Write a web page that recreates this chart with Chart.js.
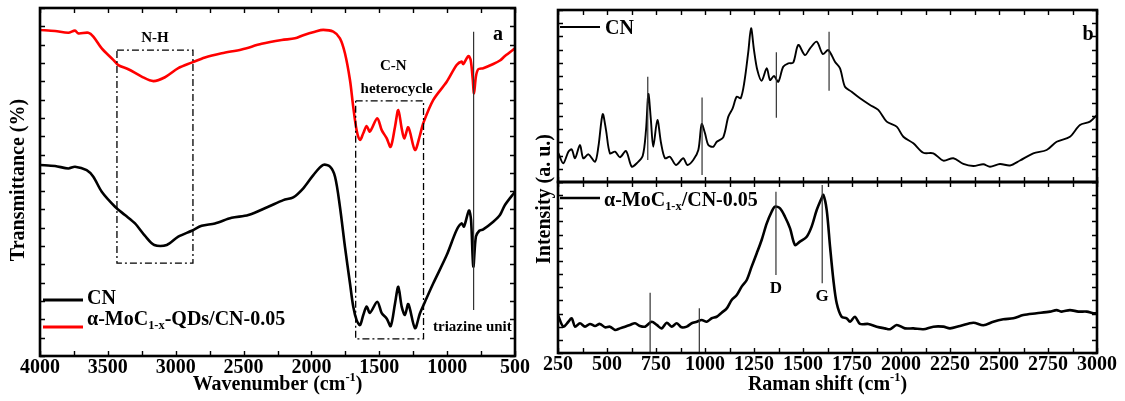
<!DOCTYPE html>
<html><head><meta charset="utf-8">
<script src="https://cdn.jsdelivr.net/npm/chart.js@4.4.1/dist/chart.umd.min.js"></script>
<style>
html,body{margin:0;padding:0;background:#fff;}
#wrap{position:relative;width:1125px;height:401px;background:#fff;}
#wrap canvas{position:absolute;left:0;top:0;}
</style></head><body>
<div id="wrap">
<canvas id="c1" width="1125" height="401" style="width:1125px;height:401px"></canvas>
<canvas id="c2" width="1125" height="401" style="width:1125px;height:401px"></canvas>
<canvas id="c3" width="1125" height="401" style="width:1125px;height:401px"></canvas>
</div>
<script>
// ---------- DATA ----------
// (a) FTIR: alpha-MoC1-x-QDs/CN-0.05 (red)
const ftirMo_wn = [4000,3889,3791,3742,3718,3644,3607,3545,3460,3423,3349,3251,3165,3079,2981,2882,2784,2661,2514,2367,2219,2121,2060,1974,1913,1839,1790,1753,1716,1692,1667,1642,1618,1593,1569,1515,1482,1446,1416,1384,1360,1335,1316,1286,1237,1200,1176,1102,1003,930,893,881,844,827,812,802,788,771,734,660,611,574,500];
const ftirMo_T  = [93.7,93.4,92.9,93.5,92.7,92.9,91.8,88.4,85.1,83.6,82.4,80.3,79.0,80.1,82.7,84.3,85.8,87.0,88.1,89.7,90.8,91.3,92.2,93.2,93.7,93.2,91.3,87.0,79.3,71.6,64.9,62.1,64.0,66.1,64.5,68.3,64.9,62.6,60.1,65.9,70.7,65.4,62.5,65.7,59.2,63.5,66.9,73.6,78.8,83.6,84.6,83.9,86.2,85.1,79.8,75.5,80.3,82.4,82.7,83.9,84.9,86.2,88.4];
// (a) FTIR: CN (black)
const ftirCN_wn = [4000,3889,3791,3742,3656,3607,3545,3447,3374,3300,3226,3158,3066,2981,2882,2809,2711,2588,2465,2318,2207,2134,2060,1986,1913,1863,1826,1790,1753,1716,1692,1667,1642,1618,1593,1569,1515,1482,1446,1416,1384,1360,1335,1311,1286,1237,1200,1163,1102,1003,930,893,876,839,824,807,788,763,734,660,611,574,500];
const ftirCN_T  = [54.9,54.6,53.9,54.4,53.4,51.5,47.2,42.9,40.5,38.1,34.5,31.9,31.9,34.3,36.0,37.4,38.1,39.7,40.5,42.9,44.8,45.6,48.2,52.0,54.9,54.4,51.5,42.9,31.4,20.9,14.2,10.3,8.9,11.8,14.2,12.4,15.6,12.3,10.8,8.6,15.1,19.9,14.2,11.8,14.9,8.0,12.3,15.6,20.9,29.0,36.2,38.1,37.2,41.8,39.1,25.7,34.3,36.0,36.4,38.6,40.5,43.4,47.2];
// (b) Raman: CN (upper)
const ramanCN_shift = [252,277,303,320,337,362,379,405,439,456,478,495,515,541,566,597,626,652,682,699,711,724,736,757,776,796,821,852,889,910,940,966,983,1000,1017,1042,1060,1093,1119,1141,1162,1182,1201,1221,1235,1250,1267,1289,1315,1332,1352,1374,1399,1425,1450,1476,1510,1536,1570,1601,1629,1663,1689,1714,1748,1791,1842,1884,1927,1978,2012,2063,2114,2165,2216,2267,2318,2369,2420,2454,2505,2556,2607,2675,2743,2794,2862,2913,2964,3000];
const ramanCN_I = [16.7,10.9,17.6,19.0,13.8,21.5,13.8,16.1,11.8,20.5,39.4,30.2,16.7,17.6,14.4,18.0,8.9,10.9,15.1,30.2,51.2,36.0,20.5,36.0,22.5,13.8,14.7,9.9,13.8,9.9,12.8,18.6,33.7,28.3,21.5,20.5,23.4,26.0,38.0,42.8,49.6,48.7,58.3,75.8,89.4,76.7,65.1,58.9,66.1,59.3,61.6,58.3,67.0,69.0,69.4,79.7,73.8,77.7,81.6,74.4,76.7,69.9,66.1,55.4,52.5,48.7,44.8,41.9,35.1,32.2,26.3,22.5,17.0,16.7,12.4,13.8,10.5,9.3,10.3,8.9,10.5,9.6,12.5,16.7,18.6,23.4,26.3,33.1,35.1,39.0];
// (b) Raman: alpha-MoC1-x/CN-0.05 (lower)
const ramanMo_shift = [250,277,303,320,337,362,388,413,439,464,490,515,541,566,592,617,643,668,694,728,754,779,805,830,856,881,907,932,958,983,1009,1034,1060,1085,1111,1136,1162,1187,1213,1238,1264,1289,1315,1340,1357,1383,1408,1434,1459,1484,1519,1544,1570,1595,1604,1621,1638,1655,1672,1697,1723,1740,1765,1791,1833,1876,1918,1944,1978,2020,2063,2114,2165,2216,2250,2301,2369,2420,2471,2522,2573,2624,2692,2760,2794,2820,2862,2905,2948,2982,3000];
const ramanMo_I = [22.2,15.4,18.3,20.3,15.4,17.4,15.4,17.0,15.8,17.0,15.0,15.4,13.5,14.4,15.4,16.4,17.4,15.8,15.4,18.3,16.4,14.4,17.7,15.4,17.4,15.0,15.4,17.4,18.3,19.3,18.3,20.3,21.2,23.6,26.1,31.0,33.9,38.8,42.7,50.5,58.3,66.1,75.8,82.6,85.6,84.6,79.7,72.9,63.2,65.1,68.0,73.9,83.6,90.5,92.4,83.6,62.2,42.7,29.1,21.2,20.3,18.3,21.2,17.0,17.0,15.4,14.4,13.9,16.4,14.4,14.4,13.9,15.4,15.4,14.4,15.8,17.7,16.2,18.3,19.7,20.3,22.2,23.2,24.2,25.1,24.2,25.1,24.2,24.2,23.2,23.2];
// marker lines [x, yFrom, yTo]
const ftirMarkers = [[805, 93.2, 13.2]];
const ramanCNMarkers = [[708, 61.2, 12.8],[985, 49.2, 4.1],[1364, 75.4, 37.4],[1633, 87.4, 53.1]];
const ramanMoMarkers = [[1362, 94.3, 45.6],[1598, 98.2, 40.8],[720, 35.3, 0],[971, 26.1, 0]];
// highlight boxes [xFrom, xTo, yTop, yBottom]
const nhBox = [3433, 2873, 87.9, 26.7];
const cnBox = [1674, 1174, 73.3, 4.9];
// ticks
const ftirTickValues = [500,750,1000,1250,1500,1750,2000,2250,2500,2750,3000,3250,3500,3750,4000];
const ftirTickLabels = [4000,3500,3000,2500,2000,1500,1000,500];
const ramanTickValues = [250,375,500,625,750,875,1000,1125,1250,1375,1500,1625,1750,1875,2000,2125,2250,2375,2500,2625,2750,2875,3000];
const ramanTickLabels = [250,500,750,1000,1250,1500,1750,2000,2250,2500,2750,3000];

// ---------- HELPERS ----------
const FONT = "'Liberation Serif','Times New Roman',serif";
const pts = (xs, ys) => xs.map((x, i) => ({x, y: ys[i]}));
const vline = m => [{x: m[0], y: m[1]}, {x: m[0], y: m[2]}];
const rect = b => [{x:b[0],y:b[2]},{x:b[1],y:b[2]},{x:b[1],y:b[3]},{x:b[0],y:b[3]},{x:b[0],y:b[2]}];
const yDivs = n => Array.from({length: n + 1}, (_, i) => ({value: i * 100 / n}));

function drawRich(ctx, parts, x, y, size, align, rotate, color) {
  ctx.save();
  ctx.translate(x, y);
  if (rotate) ctx.rotate(rotate);
  ctx.fillStyle = color || '#000';
  ctx.textBaseline = 'alphabetic';
  const segs = parts.map(p => {
    const t = typeof p === 'string' ? p : p[0];
    const mode = typeof p === 'string' ? 0 : p[1];
    const s = mode ? size * 0.62 : size;
    ctx.font = `bold ${s}px ${FONT}`;
    return {t, mode, s, w: ctx.measureText(t).width};
  });
  const total = segs.reduce((a, b) => a + b.w, 0);
  let cx = align === 'center' ? -total / 2 : align === 'right' ? -total : 0;
  const base = size * 0.33;
  segs.forEach(sg => {
    ctx.font = `bold ${sg.s}px ${FONT}`;
    let by = base;
    if (sg.mode === 1) by += size * 0.22;
    if (sg.mode === 2) by -= size * 0.42;
    ctx.fillText(sg.t, cx, by);
    cx += sg.w;
  });
  ctx.restore();
}

const framePlugin = {
  id: 'frame',
  afterDatasetsDraw(chart, args, o) {
    const {ctx, chartArea: a, scales} = chart;
    ctx.save();
    ctx.strokeStyle = '#000';
    ctx.lineWidth = 1.4;
    const tl = o.tickLen || 5;
    scales.x.ticks.forEach(t => {
      const px = Math.round(scales.x.getPixelForValue(t.value)) + 0.5;
      ctx.beginPath();
      if (o.xBottom) { ctx.moveTo(px, a.bottom); ctx.lineTo(px, a.bottom - tl); }
      if (o.xTop) { ctx.moveTo(px, a.top); ctx.lineTo(px, a.top + tl); }
      ctx.stroke();
    });
    scales.y.ticks.forEach(t => {
      const py = Math.round(scales.y.getPixelForValue(t.value)) + 0.5;
      ctx.beginPath();
      ctx.moveTo(a.left, py); ctx.lineTo(a.left + tl, py);
      ctx.moveTo(a.right, py); ctx.lineTo(a.right - tl, py);
      ctx.stroke();
    });
    ctx.lineWidth = o.lineWidth || 2.5;
    ctx.strokeRect(a.left, a.top, a.right - a.left, a.bottom - a.top);
    ctx.restore();
  }
};

const textPlugin = {
  id: 'texts',
  afterDraw(chart, args, o) {
    const ctx = chart.ctx, xs = chart.scales.x, ys = chart.scales.y;
    (o.swatches || []).forEach(s => {
      ctx.save(); ctx.strokeStyle = s.color; ctx.lineWidth = s.width;
      ctx.beginPath(); ctx.moveTo(s.x1, s.y); ctx.lineTo(s.x2, s.y); ctx.stroke(); ctx.restore();
    });
    (o.items || []).forEach(it => {
      let x = it.px, y = it.py;
      if (it.dx !== undefined) { x = xs.getPixelForValue(it.dx); y = ys.getPixelForValue(it.dy); }
      drawRich(ctx, it.parts, x, y, it.size, it.align || 'left', it.rotate || 0, it.color);
    });
  }
};

function xScale(min, max, reverse, tickVals, tickLabs, height, showLabels) {
  return {
    type: 'linear', min, max, reverse, position: 'bottom',
    afterBuildTicks: ax => { ax.ticks = tickVals.map(v => ({value: v})); },
    afterFit: s => { s.height = height; },
    grid: {display: false, drawTicks: false}, border: {display: false},
    ticks: {display: showLabels, autoSkip: false, maxRotation: 0, minRotation: 0, padding: 0, color: '#000',
            font: {family: FONT, size: 20, weight: 'bold', lineHeight: 1.2},
            callback: v => tickLabs.includes(v) ? String(v) : ''}
  };
}
function yScale(n) {
  return {
    type: 'linear', min: 0, max: 100,
    afterBuildTicks: ax => { ax.ticks = yDivs(n); },
    afterFit: s => { s.width = 0; },
    grid: {display: false, drawTicks: false}, border: {display: false},
    ticks: {display: false}
  };
}
const curve = (data, color, w) => ({data, borderColor: color, borderWidth: w, pointRadius: 0, tension: 0.3, fill: false});
const thin = (data, color, w, dash) => ({data, borderColor: color, borderWidth: w, pointRadius: 0, tension: 0, fill: false, borderDash: dash || []});
const base = {animation: false, responsive: false, devicePixelRatio: 1, events: []};

// ---------- (a) FTIR ----------
new Chart(document.getElementById('c1'), {
  type: 'line',
  data: {datasets: [
    thin(rect(nhBox), '#000', 1.3, [7, 3, 2, 3]),
    thin(rect(cnBox), '#000', 1.3, [7, 3, 2, 3]),
    ...ftirMarkers.map(m => thin(vline(m), '#333', 1.2)),
    curve(pts(ftirCN_wn, ftirCN_T), '#000', 2.6),
    curve(pts(ftirMo_wn, ftirMo_T), '#ff0000', 2.6)
  ]},
  options: {...base,
    layout: {padding: {left: 40, top: 8, right: 610, bottom: 0}},
    scales: {x: xScale(500, 4000, true, ftirTickValues, ftirTickLabels, 45, true), y: yScale(19)},
    plugins: {legend: {display: false}, tooltip: {enabled: false},
      frame: {xTop: true, xBottom: true, tickLen: 5, lineWidth: 2.6},
      texts: {
        swatches: [{x1: 43, x2: 83, y: 300, color: '#000', width: 3}, {x1: 43, x2: 83, y: 327, color: '#ff0000', width: 3}],
        items: [
          {dx: 3153, dy: 91.7, parts: ['N-H'], size: 15, align: 'center'},
          {dx: 1397, dy: 83.6, parts: ['C-N'], size: 15, align: 'center'},
          {dx: 1372, dy: 76.9, parts: ['heterocycle'], size: 15, align: 'center'},
          {dx: 1104, dy: 8.6, parts: ['triazine unit'], size: 15, align: 'left'},
          {dx: 625, dy: 92.8, parts: ['a'], size: 20, align: 'center'},
          {px: 87, py: 297, parts: ['CN'], size: 20},
          {px: 87, py: 318, parts: ['\u03b1-MoC', ['1-x', 1], '-QDs/CN-0.05'], size: 20},
          {px: 277.5, py: 383, parts: ['Wavenumber (cm', ['-1', 2], ')'], size: 20, align: 'center'},
          {px: 17, py: 180, parts: ['Transmittance (%)'], size: 20, align: 'center', rotate: -Math.PI / 2}
        ]
      }
    }
  },
  plugins: [framePlugin, textPlugin]
});

// ---------- (b) Raman upper: CN ----------
new Chart(document.getElementById('c2'), {
  type: 'line',
  data: {datasets: [
    ...ramanCNMarkers.map(m => thin(vline(m), '#333', 1.2)),
    curve(pts(ramanCN_shift, ramanCN_I), '#000', 1.9)
  ]},
  options: {...base,
    layout: {padding: {left: 558, top: 10, right: 28, bottom: 219}},
    scales: {x: xScale(250, 3000, false, ramanTickValues, ramanTickLabels, 0, false), y: yScale(13)},
    plugins: {legend: {display: false}, tooltip: {enabled: false},
      frame: {xTop: true, xBottom: true, tickLen: 5, lineWidth: 2.6},
      texts: {
        swatches: [{x1: 560, x2: 600, y: 27, color: '#000', width: 1.8}],
        items: [
          {px: 605, py: 27, parts: ['CN'], size: 20},
          {px: 1088, py: 33, parts: ['b'], size: 20, align: 'center'}
        ]
      }
    }
  },
  plugins: [framePlugin, textPlugin]
});

// ---------- (b) Raman lower: alpha-MoC1-x/CN-0.05 ----------
new Chart(document.getElementById('c3'), {
  type: 'line',
  data: {datasets: [
    ...ramanMoMarkers.map(m => thin(vline(m), '#333', 1.2)),
    curve(pts(ramanMo_shift, ramanMo_I), '#000', 2.6)
  ]},
  options: {...base,
    layout: {padding: {left: 558, top: 182, right: 28, bottom: 0}},
    scales: {x: xScale(250, 3000, false, ramanTickValues, ramanTickLabels, 48, true), y: yScale(13)},
    plugins: {legend: {display: false}, tooltip: {enabled: false},
      frame: {xTop: true, xBottom: true, tickLen: 5, lineWidth: 2.6},
      texts: {
        swatches: [{x1: 560, x2: 600, y: 198, color: '#000', width: 2.6}],
        items: [
          {px: 604, py: 199, parts: ['\u03b1-MoC', ['1-x', 1], '/CN-0.05'], size: 20},
          {dx: 1362, dy: 38.6, parts: ['D'], size: 17, align: 'center'},
          {dx: 1597, dy: 33.9, parts: ['G'], size: 17, align: 'center'},
          {px: 827.5, py: 383, parts: ['Raman shift (cm', ['-1', 2], ')'], size: 20, align: 'center'},
          {px: 543, py: 199, parts: ['Intensity (a. u.)'], size: 20, align: 'center', rotate: -Math.PI / 2}
        ]
      }
    }
  },
  plugins: [framePlugin, textPlugin]
});
</script>
</body></html>
